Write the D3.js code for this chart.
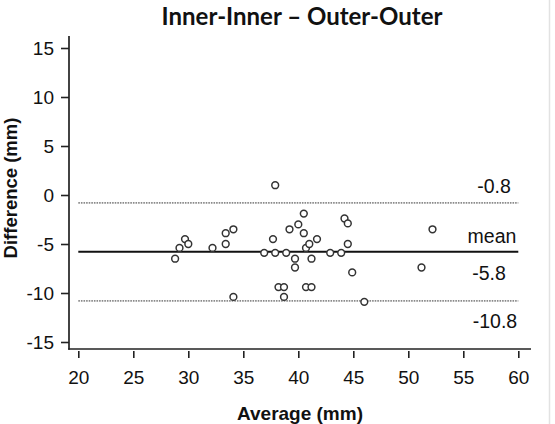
<!DOCTYPE html>
<html>
<head>
<meta charset="utf-8">
<script src="https://cdn.jsdelivr.net/npm/d3@7"></script>
<style>
  html, body { margin: 0; padding: 0; background: #fff; }
  svg { display: block; }
</style>
</head>
<body>
<script>
// ---- data ----
const title = "Inner-Inner \u2013 Outer-Outer";
const xLabel = "Average (mm)";
const yLabel = "Difference (mm)";
const xTicks = [20, 25, 30, 35, 40, 45, 50, 55, 60];
const yTicks = [-15, -10, -5, 0, 5, 10, 15];
const average = [28.8, 29.2, 29.7, 30.0, 32.2, 33.4, 33.4, 34.1, 34.1, 36.9,
                 37.7, 37.9, 37.9, 38.2, 38.7, 38.7, 38.9, 39.2, 39.7, 39.7,
                 40.0, 40.5, 40.5, 40.7, 41.0, 40.7, 41.2, 41.2, 41.7, 42.9,
                 43.9, 44.2, 44.5, 44.5, 44.9, 46.0, 51.2, 52.2];
const difference = [-6.5, -5.4, -4.5, -5.0, -5.4, -5.0, -3.9, -3.5, -10.4, -5.9,
                    -4.5, 1.0, -5.9, -9.4, -9.4, -10.4, -5.9, -3.5, -6.5, -7.4,
                    -3.0, -1.9, -3.9, -5.4, -5.0, -9.4, -9.4, -6.5, -4.5, -5.9,
                    -5.9, -2.4, -2.9, -5.0, -7.9, -10.9, -7.4, -3.5];
const limitValues = [-0.8, -5.8, -10.8];
const limitKinds = ["loa", "mean", "loa"];
const limitTexts = ["-0.8", "-5.8", "-10.8"];

// ---- layout ----
const W = 555, H = 424;
const svg = d3.select("body").append("svg").attr("width", W).attr("height", H);

const x = d3.scaleLinear().domain([20, 60]).range([78.3, 518.3]);
const y = d3.scaleLinear().domain([-15, 15]).range([342, 48]);
const axisX0 = 69, axisX1 = 531, axisY0 = 36, axisY1 = 349;

const tickFont = "'Liberation Sans', Arial, Helvetica, sans-serif";

// light border strip at right
svg.append("line").attr("x1", 549.5).attr("x2", 549.5).attr("y1", 0).attr("y2", H)
  .attr("stroke", "#e2e2e2").attr("stroke-width", 1.5);

// title
const t = svg.append("text").text(title)
  .attr("x", 302).attr("y", 25).attr("text-anchor", "middle")
  .attr("font-family", "Lato, 'Open Sans', sans-serif").attr("font-weight", "bold")
  .attr("font-size", 23).attr("fill", "#111");
const tw = t.node().getComputedTextLength();
t.attr("font-size", Math.min(24, 23 * 286 / tw));

// y axis
const gy = svg.append("g").attr("transform", `translate(${axisX0},0)`)
  .call(d3.axisLeft(y).tickValues(yTicks).tickSize(8).tickPadding(7).tickFormat(d3.format("d")));
gy.select(".domain").remove();
gy.selectAll(".tick line").attr("stroke", "#222").attr("stroke-width", 1.6);
gy.selectAll(".tick text").attr("font-family", tickFont).attr("font-size", 19).attr("fill", "#111")
  .text(d => d < 0 ? "-" + Math.abs(d) : d);
svg.append("line").attr("x1", axisX0).attr("x2", axisX0).attr("y1", axisY0).attr("y2", axisY1 + 0.8)
  .attr("stroke", "#222").attr("stroke-width", 1.7);

// x axis
const gx = svg.append("g").attr("transform", `translate(0,${axisY1})`)
  .call(d3.axisBottom(x).tickValues(xTicks).tickSize(9).tickPadding(13).tickFormat(d3.format("d")));
gx.select(".domain").remove();
gx.selectAll(".tick line").attr("y1", 2).attr("stroke", "#222").attr("stroke-width", 1.6);
gx.selectAll(".tick text").attr("font-family", tickFont).attr("font-size", 19).attr("fill", "#111");
svg.append("line").attr("x1", axisX0 - 0.8).attr("x2", axisX1).attr("y1", axisY1).attr("y2", axisY1)
  .attr("stroke", "#222").attr("stroke-width", 1.7);

// axis titles
svg.append("text").text(xLabel)
  .attr("x", 300).attr("y", 420).attr("text-anchor", "middle")
  .attr("font-family", tickFont).attr("font-weight", "bold").attr("font-size", 19).attr("fill", "#111");
svg.append("text").text(yLabel)
  .attr("transform", "translate(16.5,188) rotate(-90)").attr("text-anchor", "middle")
  .attr("font-family", tickFont).attr("font-weight", "bold").attr("font-size", 18.5).attr("fill", "#111");

// reference lines
limitValues.forEach((v, i) => {
  const isMean = limitKinds[i] === "mean";
  svg.append("line")
    .attr("x1", x(20)).attr("x2", x(60)).attr("y1", y(v)).attr("y2", y(v))
    .attr("stroke", isMean ? "#111" : "#8a8a8a")
    .attr("stroke-width", isMean ? 2 : 1.6)
    .attr("stroke-dasharray", isMean ? null : "1.6,1");
});

// labels for reference lines
const lbl = (txt, cx, by) => svg.append("text").text(txt)
  .attr("x", cx).attr("y", by).attr("text-anchor", "middle")
  .attr("font-family", tickFont).attr("font-size", 19.5).attr("fill", "#111");
lbl(limitTexts[0], 494, y(limitValues[0]) - 10);
lbl("mean", 492, y(limitValues[1]) - 9);
lbl(limitTexts[1], 489, y(limitValues[1]) + 28);
lbl(limitTexts[2], 495, y(limitValues[2]) + 27);

// points
svg.append("g").selectAll("circle")
  .data(average.map((a, i) => [a, difference[i]]))
  .join("circle")
  .attr("cx", d => x(d[0])).attr("cy", d => y(d[1])).attr("r", 3.4)
  .attr("fill", "#fff").attr("stroke", "#333").attr("stroke-width", 1.5);
</script>
</body>
</html>
